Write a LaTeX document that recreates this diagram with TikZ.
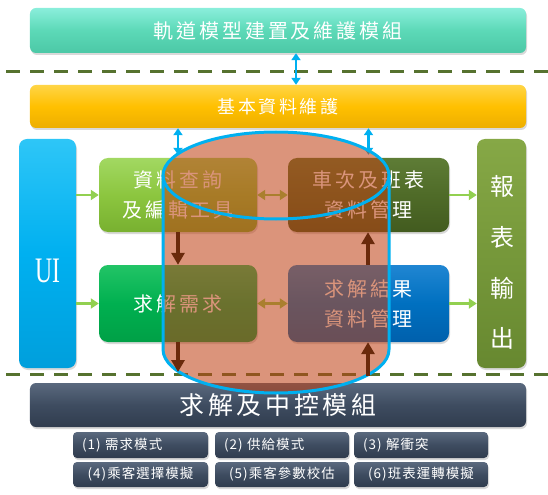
\documentclass[tikz,border=0pt]{standalone}
\usepackage{fontspec}
\setmainfont{Liberation Serif}
\newfontfamily\cjk{Noto Sans CJK TC}[LetterSpace=15]
\newfontfamily\cjksm{Noto Sans CJK TC}[LetterSpace=8]
\usetikzlibrary{arrows.meta,shadows}
\definecolor{tealT}{HTML}{8AEEDB}
\definecolor{tealM}{HTML}{5CD9B7}
\definecolor{tealB}{HTML}{4CC8A6}
\definecolor{yelT}{HTML}{FFD546}
\definecolor{yelM}{HTML}{FFC000}
\definecolor{yelB}{HTML}{EDAE00}
\definecolor{cyT}{HTML}{2EC6F7}
\definecolor{cyM}{HTML}{00B0F0}
\definecolor{cyB}{HTML}{009FDC}
\definecolor{lgT}{HTML}{A2D862}
\definecolor{lgM}{HTML}{8CC63F}
\definecolor{lgB}{HTML}{78B030}
\definecolor{dgT}{HTML}{5E7C36}
\definecolor{dgM}{HTML}{4F6B28}
\definecolor{dgB}{HTML}{425B1F}
\definecolor{gnT}{HTML}{22C466}
\definecolor{gnM}{HTML}{00B050}
\definecolor{gnB}{HTML}{00A046}
\definecolor{blT}{HTML}{2086D2}
\definecolor{blM}{HTML}{0070C0}
\definecolor{blB}{HTML}{0060AC}
\definecolor{olT}{HTML}{86A846}
\definecolor{olM}{HTML}{76983A}
\definecolor{olB}{HTML}{678830}
\definecolor{slT}{HTML}{5A697E}
\definecolor{slM}{HTML}{3E4C60}
\definecolor{slB}{HTML}{303C4E}
\definecolor{arrgreen}{HTML}{92D050}
\definecolor{arrcyan}{HTML}{00B0F0}
\definecolor{arrbrown}{HTML}{6A2A0C}
\definecolor{dashgreen}{HTML}{56722F}
\definecolor{cylfill}{RGB}{190,65,20}
\definecolor{cylline}{HTML}{00B0F0}
\begin{document}
\begin{tikzpicture}[x=1bp,y=-1bp,
  box/.style={rounded corners=9bp, inner sep=0pt, text=white, align=center,
    drop shadow={opacity=0.3,shadow xshift=1bp,shadow yshift=-2bp},
    font=\cjk\fontsize{20}{30}\selectfont},
  bar/.style={box, rounded corners=6bp},
  smallbox/.style={box, rounded corners=4bp, top color=slT, bottom color=slB, middle color=slM,
    font=\cjksm\fontsize{13.5}{16}\selectfont},
  garrow/.style={draw=arrgreen, line width=2.5bp, -{Triangle[length=8bp,width=10bp]}},
  gdarrow/.style={draw=arrgreen, line width=2.5bp, {Triangle[length=8bp,width=10bp]}-{Triangle[length=8bp,width=10bp]}},
  carrow/.style={draw=arrcyan, line width=2.5bp, {Triangle[length=7bp,width=9bp]}-{Triangle[length=7bp,width=9bp]}},
  barrow/.style={draw=arrbrown, line width=4bp, -{Triangle[length=12bp,width=13bp]}},
  dashline/.style={draw=dashgreen, line width=3bp, dash pattern=on 14bp off 10bp, dash phase=18bp}
]
\useasboundingbox (0,0) rectangle (548,495);

% dashed separators
\coordinate (d1a) at (0,72);
\coordinate (d1b) at (548,72);
\coordinate (d2a) at (0,374);
\coordinate (d2b) at (548,374);
\draw[dashline] (d1a) -- (d1b);
\draw[dashline] (d2a) -- (d2b);

% bars
\node[bar, minimum width=496bp, minimum height=45bp, top color=tealT, bottom color=tealB, middle color=tealM]
  (top) at (278,30.5) {軌道模型建置及維護模組};
\node[bar, minimum width=496bp, minimum height=43bp, top color=yelT, bottom color=yelB, middle color=yelM,
  font=\cjk\fontsize{18}{22}\selectfont]
  (base) at (278,106.5) {基本資料維護};
\node[bar, minimum width=496bp, minimum height=44bp, top color=slT, bottom color=slB, middle color=slM,
  font=\cjk\fontsize{25}{30}\selectfont]
  (ctrl) at (278,405) {求解及中控模組};

% side columns
\node[box, rounded corners=8bp, minimum width=57bp, minimum height=229bp, top color=cyT, bottom color=cyB, middle color=cyM]
  (ui) at (47.5,253.5) {};
\node[text=white, inner sep=0pt] (uitext) at (47.5,271) {\scalebox{0.66}[1]{\fontsize{36}{36}\selectfont UI}};
\node[box, rounded corners=8bp, minimum width=49bp, minimum height=229bp, top color=olT, bottom color=olB, middle color=olM]
  (rep) at (501.5,253.5) {};
\node[text=white, inner sep=0pt, align=center, font=\cjk\fontsize{24}{51}\selectfont]
  (reptext) at (502.5,262.5) {報\\表\\輸\\出};

% inner boxes
\node[box, minimum width=158bp, minimum height=74bp, top color=lgT, bottom color=lgB, middle color=lgM]
  (b1) at (178,195) {資料查詢\\及編輯工具};
\node[box, minimum width=161bp, minimum height=74bp, top color=dgT, bottom color=dgB, middle color=dgM]
  (b2) at (368.5,195) {車次及班表\\資料管理};
\node[box, minimum width=158bp, minimum height=77bp, top color=gnT, bottom color=gnB, middle color=gnM]
  (b3) at (178,303.5) {求解需求};
\node[box, minimum width=161bp, minimum height=77bp, top color=blT, bottom color=blB, middle color=blM]
  (b4) at (368.5,303.5) {求解結果\\資料管理};

% small boxes
\node[smallbox, minimum width=135bp, minimum height=26bp, text width=117bp, align=left] (s1) at (140.5,445) {(1) 需求模式};
\node[smallbox, minimum width=134bp, minimum height=26bp, text width=116bp, align=left] (s2) at (282,445) {(2) 供給模式};
\node[smallbox, minimum width=134bp, minimum height=26bp, text width=116bp, align=left] (s3) at (421,445) {(3) 解衝突};
\node[smallbox, minimum width=135bp, minimum height=25bp] (s4) at (140.5,474.5) {(4)乘客選擇模擬};
\node[smallbox, minimum width=134bp, minimum height=25bp] (s5) at (282,474.5) {(5)乘客參數校估};
\node[smallbox, minimum width=134bp, minimum height=25bp] (s6) at (421,474.5) {(6)班表運轉模擬};

% green arrows
\draw[garrow] (ui.east |- b1.west) -- (b1.west);
\draw[garrow] (ui.east |- b3.west) -- (b3.west);
\draw[garrow] (b2.east) -- (rep.west |- b2.east);
\draw[garrow] (b4.east) -- (rep.west |- b4.east);
\draw[gdarrow] (b1.east) -- (b2.west);
\draw[gdarrow] (b3.east) -- (b4.west);

% cyan arrows
\draw[carrow] ([xshift=18bp]top.south) -- ([xshift=18bp]base.north);
\draw[carrow, shorten >=3bp] (base.south -| b1.north) -- (b1.north);
\draw[carrow, shorten >=3bp] (base.south -| b2.north) -- (b2.north);

% cylinder
\coordinate (cylc) at (276,175.5);
\fill[cylfill, fill opacity=0.56]
  (163,175.5) -- (163,349.5) arc[start angle=180, end angle=360, x radius=113bp, y radius=43.5bp]
  -- (389,175.5) arc[start angle=0, end angle=180, x radius=113bp, y radius=43.5bp] -- cycle;
\draw[cylline, line width=3bp]
  (163,175.5) -- (163,349.5) arc[start angle=180, end angle=360, x radius=113bp, y radius=43.5bp]
  -- (389,175.5);
\draw[cylline, line width=3bp] (cylc) ellipse [x radius=113bp, y radius=43.5bp];

% brown arrows
\coordinate (bl) at (178,372);
\coordinate (br) at (368,376);
\draw[barrow] (b1.south) -- (b3.north);
\draw[barrow] (b3.south) -- (bl);
\draw[barrow] (b4.north -| br) -- (b2.south -| br);
\draw[barrow] (br) -- (b4.south -| br);
\end{tikzpicture}
\end{document}
